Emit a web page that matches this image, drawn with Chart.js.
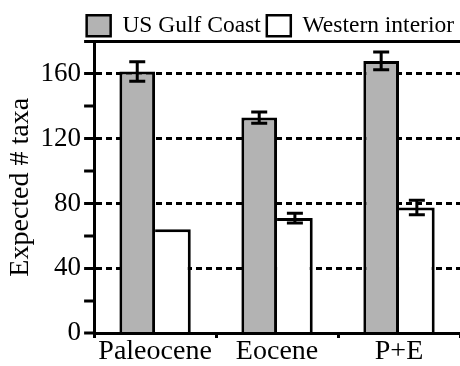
<!DOCTYPE html>
<html><head><meta charset="utf-8">
<script src="https://cdn.jsdelivr.net/npm/chart.js@4"></script>
<style>html,body{margin:0;padding:0;background:#fff}#wrap{width:460px;height:366px;position:relative}
#pre{position:absolute;left:-9999px;top:0;font-family:"Liberation Serif";font-size:28px;white-space:nowrap}</style>
</head><body><div id="pre">Aa Bb Cc 0123456789</div><div id="wrap"><canvas id="c"></canvas></div>
<script>
const categories = ['Paleocene', 'Eocene', 'P+E'];
const seriesNames = ['US Gulf Coast', 'Western interior'];
const gulfCoast = [161.5, 133, 168];
const gulfCoastErr = [6, 3.5, 5.5];
const westernInterior = [64, 71, 77.5];
const westernInteriorErr = [0, 3, 4.5];
const yTickLabels = [0, 40, 80, 120, 160];
const yMax = 180;

const errorBars = {
  id: 'errorBars',
  afterDatasetsDraw(chart) {
    const ctx = chart.ctx, y = chart.scales.y;
    chart.data.datasets.forEach((ds, i) => {
      const meta = chart.getDatasetMeta(i);
      meta.data.forEach((bar, j) => {
        const e = ds.errors[j];
        if (!e) return;
        const v = ds.data[j];
        const yt = y.getPixelForValue(v + e), yb = y.getPixelForValue(v - e);
        const x = bar.x, hw = 8;
        ctx.save();
        ctx.strokeStyle = '#000'; ctx.lineWidth = 3;
        ctx.beginPath();
        ctx.moveTo(x, yt); ctx.lineTo(x, yb);
        ctx.moveTo(x - hw, yt); ctx.lineTo(x + hw, yt);
        ctx.moveTo(x - hw, yb); ctx.lineTo(x + hw, yb);
        ctx.stroke();
        ctx.restore();
      });
    });
  }
};

// trims the spare space below the legend row
const legendTrim = {
  id: 'legendTrim',
  afterInit(chart) {
    const lg = chart.legend;
    if (!lg) return;
    const fit = lg.fit;
    lg.fit = function () { fit.call(this); this.height -= 6; };
  }
};

function build(SERIF) {
  return new Chart(document.getElementById('c'), {
    type: 'bar',
    data: {
      labels: categories,
      datasets: [
        { label: seriesNames[0], data: gulfCoast, errors: gulfCoastErr,
          backgroundColor: '#b3b3b3', borderColor: '#000',
          borderWidth: {top: 3, left: 3, right: 3, bottom: 0},
          categoryPercentage: 0.585, barPercentage: 1 },
        { label: seriesNames[1], data: westernInterior, errors: westernInteriorErr,
          backgroundColor: '#fff', borderColor: '#000',
          borderWidth: {top: 3, left: 0, right: 3, bottom: 0},
          categoryPercentage: 0.585, barPercentage: 1 }
      ]
    },
    options: {
      responsive: true, maintainAspectRatio: false, animation: false, devicePixelRatio: 1,
      layout: { padding: { left: 4, right: 0, top: 8, bottom: 0 } },
      plugins: {
        tooltip: { enabled: false },
        legend: {
          position: 'top', align: 'end',
          labels: {
            boxWidth: 24, boxHeight: 21, padding: 6, color: '#000',
            font: { family: SERIF, size: 23.5 },
            generateLabels: (chart) => Chart.defaults.plugins.legend.labels.generateLabels(chart)
              .map(l => Object.assign(l, { lineWidth: 2.5, strokeStyle: '#000' }))
          }
        }
      },
      scales: {
        x: {
          ticks: { color: '#000', font: { family: SERIF, size: 28, lineHeight: 1 }, padding: 0 },
          grid: { display: true, drawOnChartArea: false, drawTicks: true, tickLength: 5, tickWidth: 3, tickColor: '#000', offset: true },
          border: { display: true, width: 3, color: '#000', z: 1 }
        },
        y: {
          min: 0, max: yMax,
          ticks: { stepSize: 20, autoSkip: false, padding: 3, color: '#000',
            font: { family: SERIF, size: 27, lineHeight: 1 },
            callback: (v) => yTickLabels.includes(v) ? String(v) : '' },
          grid: { drawTicks: true, tickLength: 10, tickWidth: 3, tickColor: '#000', color: '#000',
            lineWidth: (c) => (c.tick && (c.tick.value === yMax || (c.tick.value > 0 && yTickLabels.includes(c.tick.value)))) ? 3 : 0 },
          border: { display: true, width: 3, color: '#000',
            dash: (c) => (c.type === 'tick' && c.tick && c.tick.value !== yMax) ? [6, 4] : [] },
          title: { display: true, text: 'Expected # taxa', color: '#000', padding: 0,
            font: { family: SERIF, size: 28 } }
        }
      }
    },
    plugins: [errorBars, legendTrim]
  });
}

void document.getElementById('pre').offsetWidth;
let chart = build('"Liberation Serif", serif');
let rebuilt = false;
function rebuild() {
  if (rebuilt) return;
  rebuilt = true;
  chart.destroy();
  chart = build('"Liberation Serif", "Times New Roman", Times, serif');
}
const later = () => requestAnimationFrame(() => setTimeout(rebuild, 0));
if (document.readyState === 'complete') later(); else window.addEventListener('load', later);
</script></body></html>
